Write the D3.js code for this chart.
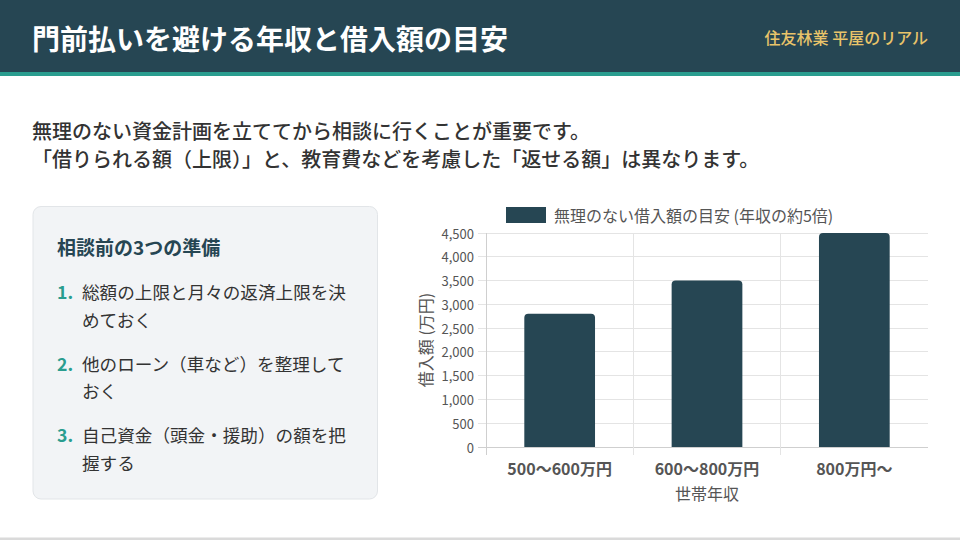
<!DOCTYPE html>
<html><head><meta charset="utf-8">
<script src="https://cdn.jsdelivr.net/npm/d3@7/dist/d3.min.js"></script>
<style>
html,body{margin:0;padding:0;background:#fff;}
svg{display:block;font-family:"Noto Sans CJK JP","Noto Sans",sans-serif;}
</style></head>
<body><svg id="c" width="960" height="540"></svg>
<script>
const headerTitle = "門前払いを避ける年収と借入額の目安";
const headerSub = "住友林業 平屋のリアル";
const introLines = ["無理のない資金計画を立ててから相談に行くことが重要です。",
  "「借りられる額（上限）」と、教育費などを考慮した「返せる額」は異なります。"];
const cardTitle = "相談前の3つの準備";
const listItems = [
  ["総額の上限と月々の返済上限を決", "めておく"],
  ["他のローン（車など）を整理して", "おく"],
  ["自己資金（頭金・援助）の額を把", "握する"]
];
const categories = ["500〜600万円", "600〜800万円", "800万円〜"];
const values = [2800, 3500, 4500];
const seriesName = "無理のない借入額の目安 (年収の約5倍)";
const yTicks = [0, 500, 1000, 1500, 2000, 2500, 3000, 3500, 4000, 4500];
const yTitle = "借入額 (万円)";
const xTitle = "世帯年収";

(function(){
const svg = d3.select("#c");
const dark = "#264653", teal = "#2a9d8f", gold = "#e9c46a";

// header
svg.append("rect").attr("x",0).attr("y",0).attr("width",960).attr("height",72).attr("fill",dark);
svg.append("rect").attr("x",0).attr("y",72).attr("width",960).attr("height",4).attr("fill",teal);
svg.append("text").attr("x",32).attr("y",38).attr("dominant-baseline","central")
  .attr("fill","#fff").attr("font-size",28).attr("font-weight",700).text(headerTitle);
svg.append("text").attr("x",928).attr("y",37).attr("dominant-baseline","central").attr("text-anchor","end")
  .attr("fill",gold).attr("font-size",16).attr("font-weight",500).text(headerSub);
// bottom border
svg.append("rect").attr("x",0).attr("y",537.5).attr("width",960).attr("height",2.5).attr("fill","#dadada");

// intro
svg.selectAll("text.intro").data(introLines).join("text").attr("class","intro")
  .attr("x",32).attr("y",(d,i)=>130+i*28.5).attr("dominant-baseline","central")
  .attr("fill","#333").attr("font-size",20).attr("font-weight",500).text(d=>d);

// card
svg.append("rect").attr("x",33).attr("y",206.5).attr("width",344.5).attr("height",292.5)
  .attr("rx",8).attr("fill","#f2f4f6").attr("stroke","#e2e5e8").attr("stroke-width",1);
svg.append("text").attr("x",57).attr("y",246).attr("dominant-baseline","central")
  .attr("fill",dark).attr("font-size",19).attr("font-weight",700).text(cardTitle);
const li = svg.append("g");
listItems.forEach((lines,i)=>{
  const y0 = 291.5 + i*71.5;
  li.append("text").attr("x",57).attr("y",y0).attr("dominant-baseline","central")
    .attr("fill",teal).attr("font-size",17.6).attr("font-weight",700).text((i+1)+".");
  lines.forEach((t,j)=>{
    li.append("text").attr("x",82).attr("y",y0+j*27.5).attr("dominant-baseline","central")
      .attr("fill","#333").attr("font-size",17.6).text(t);
  });
});

// chart
const pl=486, pr=928, pt=233, pb=447;
const x = d3.scaleBand().domain(categories).range([pl,pr]).paddingInner(0).paddingOuter(0);
const y = d3.scaleLinear().domain([0,4500]).range([pb,pt]);
const barW = x.bandwidth()*0.48;
const g = svg.append("g");
const grid = "#e4e4e4", axisC="#cfcfcf", txt="#555";
g.selectAll("line.hg").data(yTicks).join("line").attr("class","hg")
  .attr("x1",pl-8).attr("x2",pr).attr("y1",d=>y(d)).attr("y2",d=>y(d))
  .attr("stroke",d=>d===0?axisC:grid).attr("stroke-width",1).attr("shape-rendering","crispEdges");
g.selectAll("line.vg").data(categories).join("line").attr("class","vg")
  .attr("x1",d=>x(d)).attr("x2",d=>x(d)).attr("y1",pt).attr("y2",pb+8)
  .attr("stroke",(d,i)=>i===0?axisC:grid).attr("stroke-width",1).attr("shape-rendering","crispEdges");
g.selectAll("text.yl").data(yTicks).join("text").attr("class","yl")
  .attr("x",pl-12).attr("y",d=>y(d)).attr("text-anchor","end").attr("dominant-baseline","central")
  .attr("fill",txt).attr("font-size",13).text(d=>d3.format(",")(d));
g.selectAll("path.bar").data(values).join("path").attr("class","bar")
  .attr("fill",dark)
  .attr("d",(v,i)=>{
    const cx = x(categories[i]) + x.bandwidth()/2;
    const x0 = cx-barW/2, x1 = cx+barW/2, y0 = y(v), yb = y(0), r=4;
    return `M${x0},${yb}V${y0+r}Q${x0},${y0} ${x0+r},${y0}H${x1-r}Q${x1},${y0} ${x1},${y0+r}V${yb}Z`;
  });
g.selectAll("text.xl").data(categories).join("text").attr("class","xl")
  .attr("x",d=>x(d)+x.bandwidth()/2).attr("y",468).attr("text-anchor","middle").attr("dominant-baseline","central")
  .attr("fill",txt).attr("font-size",16).attr("font-weight",700).text(d=>d);
svg.append("text").attr("x",(pl+pr)/2).attr("y",493).attr("text-anchor","middle").attr("dominant-baseline","central")
  .attr("fill",txt).attr("font-size",16).text(xTitle);
svg.append("text").attr("transform",`translate(425,${(pt+pb)/2}) rotate(-90)`)
  .attr("text-anchor","middle").attr("dominant-baseline","central")
  .attr("fill",txt).attr("font-size",16).text(yTitle);
const lg = svg.append("g");
lg.append("rect").attr("x",506).attr("y",207).attr("width",40).attr("height",16).attr("fill",dark);
lg.append("text").attr("x",554).attr("y",215).attr("dominant-baseline","central")
  .attr("fill",txt).attr("font-size",16).text(seriesName);
})();
</script></body></html>
